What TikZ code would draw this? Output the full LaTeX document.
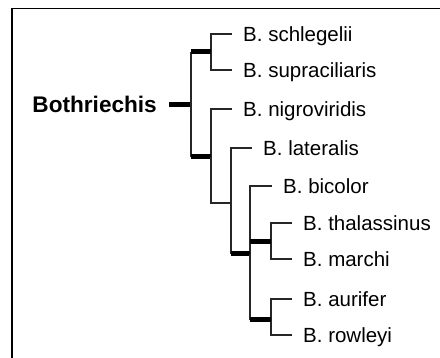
\documentclass[tikz,border=0pt]{standalone}
\usepackage{fontspec}
\setmainfont{Liberation Sans}
\begin{document}
\begin{tikzpicture}[x=1pt,y=-1pt,
  taxon/.style={anchor=west,inner xsep=11pt,inner ysep=0pt,text height=14.7pt,text depth=0pt,font=\fontsize{20.5}{24}\selectfont},
  genus/.style={anchor=east,inner xsep=12pt,inner ysep=0pt,text height=16pt,text depth=0pt,font=\fontsize{22.6}{26}\selectfont\bfseries},
  branch/.style={line width=1.7pt,black!85},
  strong/.style={line width=5pt}]
\useasboundingbox (0,0) rectangle (440,358);
\draw[line width=1.5pt] (12,358) -- (12,8.5) -- (440,8.5);

% split points
\coordinate (r) at (191,105);
\coordinate (c1) at (211,52);
\coordinate (c2) at (211,157);
\coordinate (c3) at (231,203);
\coordinate (c4) at (250,254);
\coordinate (c5) at (271,242);
\coordinate (c6) at (271,320);

% names
\node[genus] (root) at (169,105) {Bothriechis};
\node[taxon] (schl) at (232,34) {B. schlegelii};
\node[taxon] (supr) at (232,70) {B. supraciliaris};
\node[taxon] (nigr) at (232,109) {B. nigroviridis};
\node[taxon] (lat) at (252,148) {B. lateralis};
\node[taxon] (bic) at (272,186) {B. bicolor};
\node[taxon] (thal) at (292,223) {B. thalassinus};
\node[taxon] (mar) at (292,259) {B. marchi};
\node[taxon] (aur) at (292,299) {B. aurifer};
\node[taxon] (row) at (292,335) {B. rowleyi};

% tips
\foreach \p/\l in {c1/schl,c1/supr,c2/nigr,c3/lat,c4/bic,c5/thal,c5/mar,c6/aur,c6/row}
  \draw[branch] (\p) |- (\l);

% backbone
\draw[strong] (root) -- (r);
\draw[branch] (r |- c1) -- (r |- c2);
\draw[strong] (r |- c1) -- (c1);
\draw[strong] (r |- c2) -- (c2);
\draw[branch] (c2) |- (c3);
\draw[branch] (c3) -- (c3 |- c4);
\draw[strong] (c3 |- c4) -- (c4);
\draw[branch] (c4) -- (c4 |- c6);
\draw[strong] (c4 |- c5) -- (c5);
\draw[strong] (c4 |- c6) -- (c6);
\end{tikzpicture}
\end{document}
